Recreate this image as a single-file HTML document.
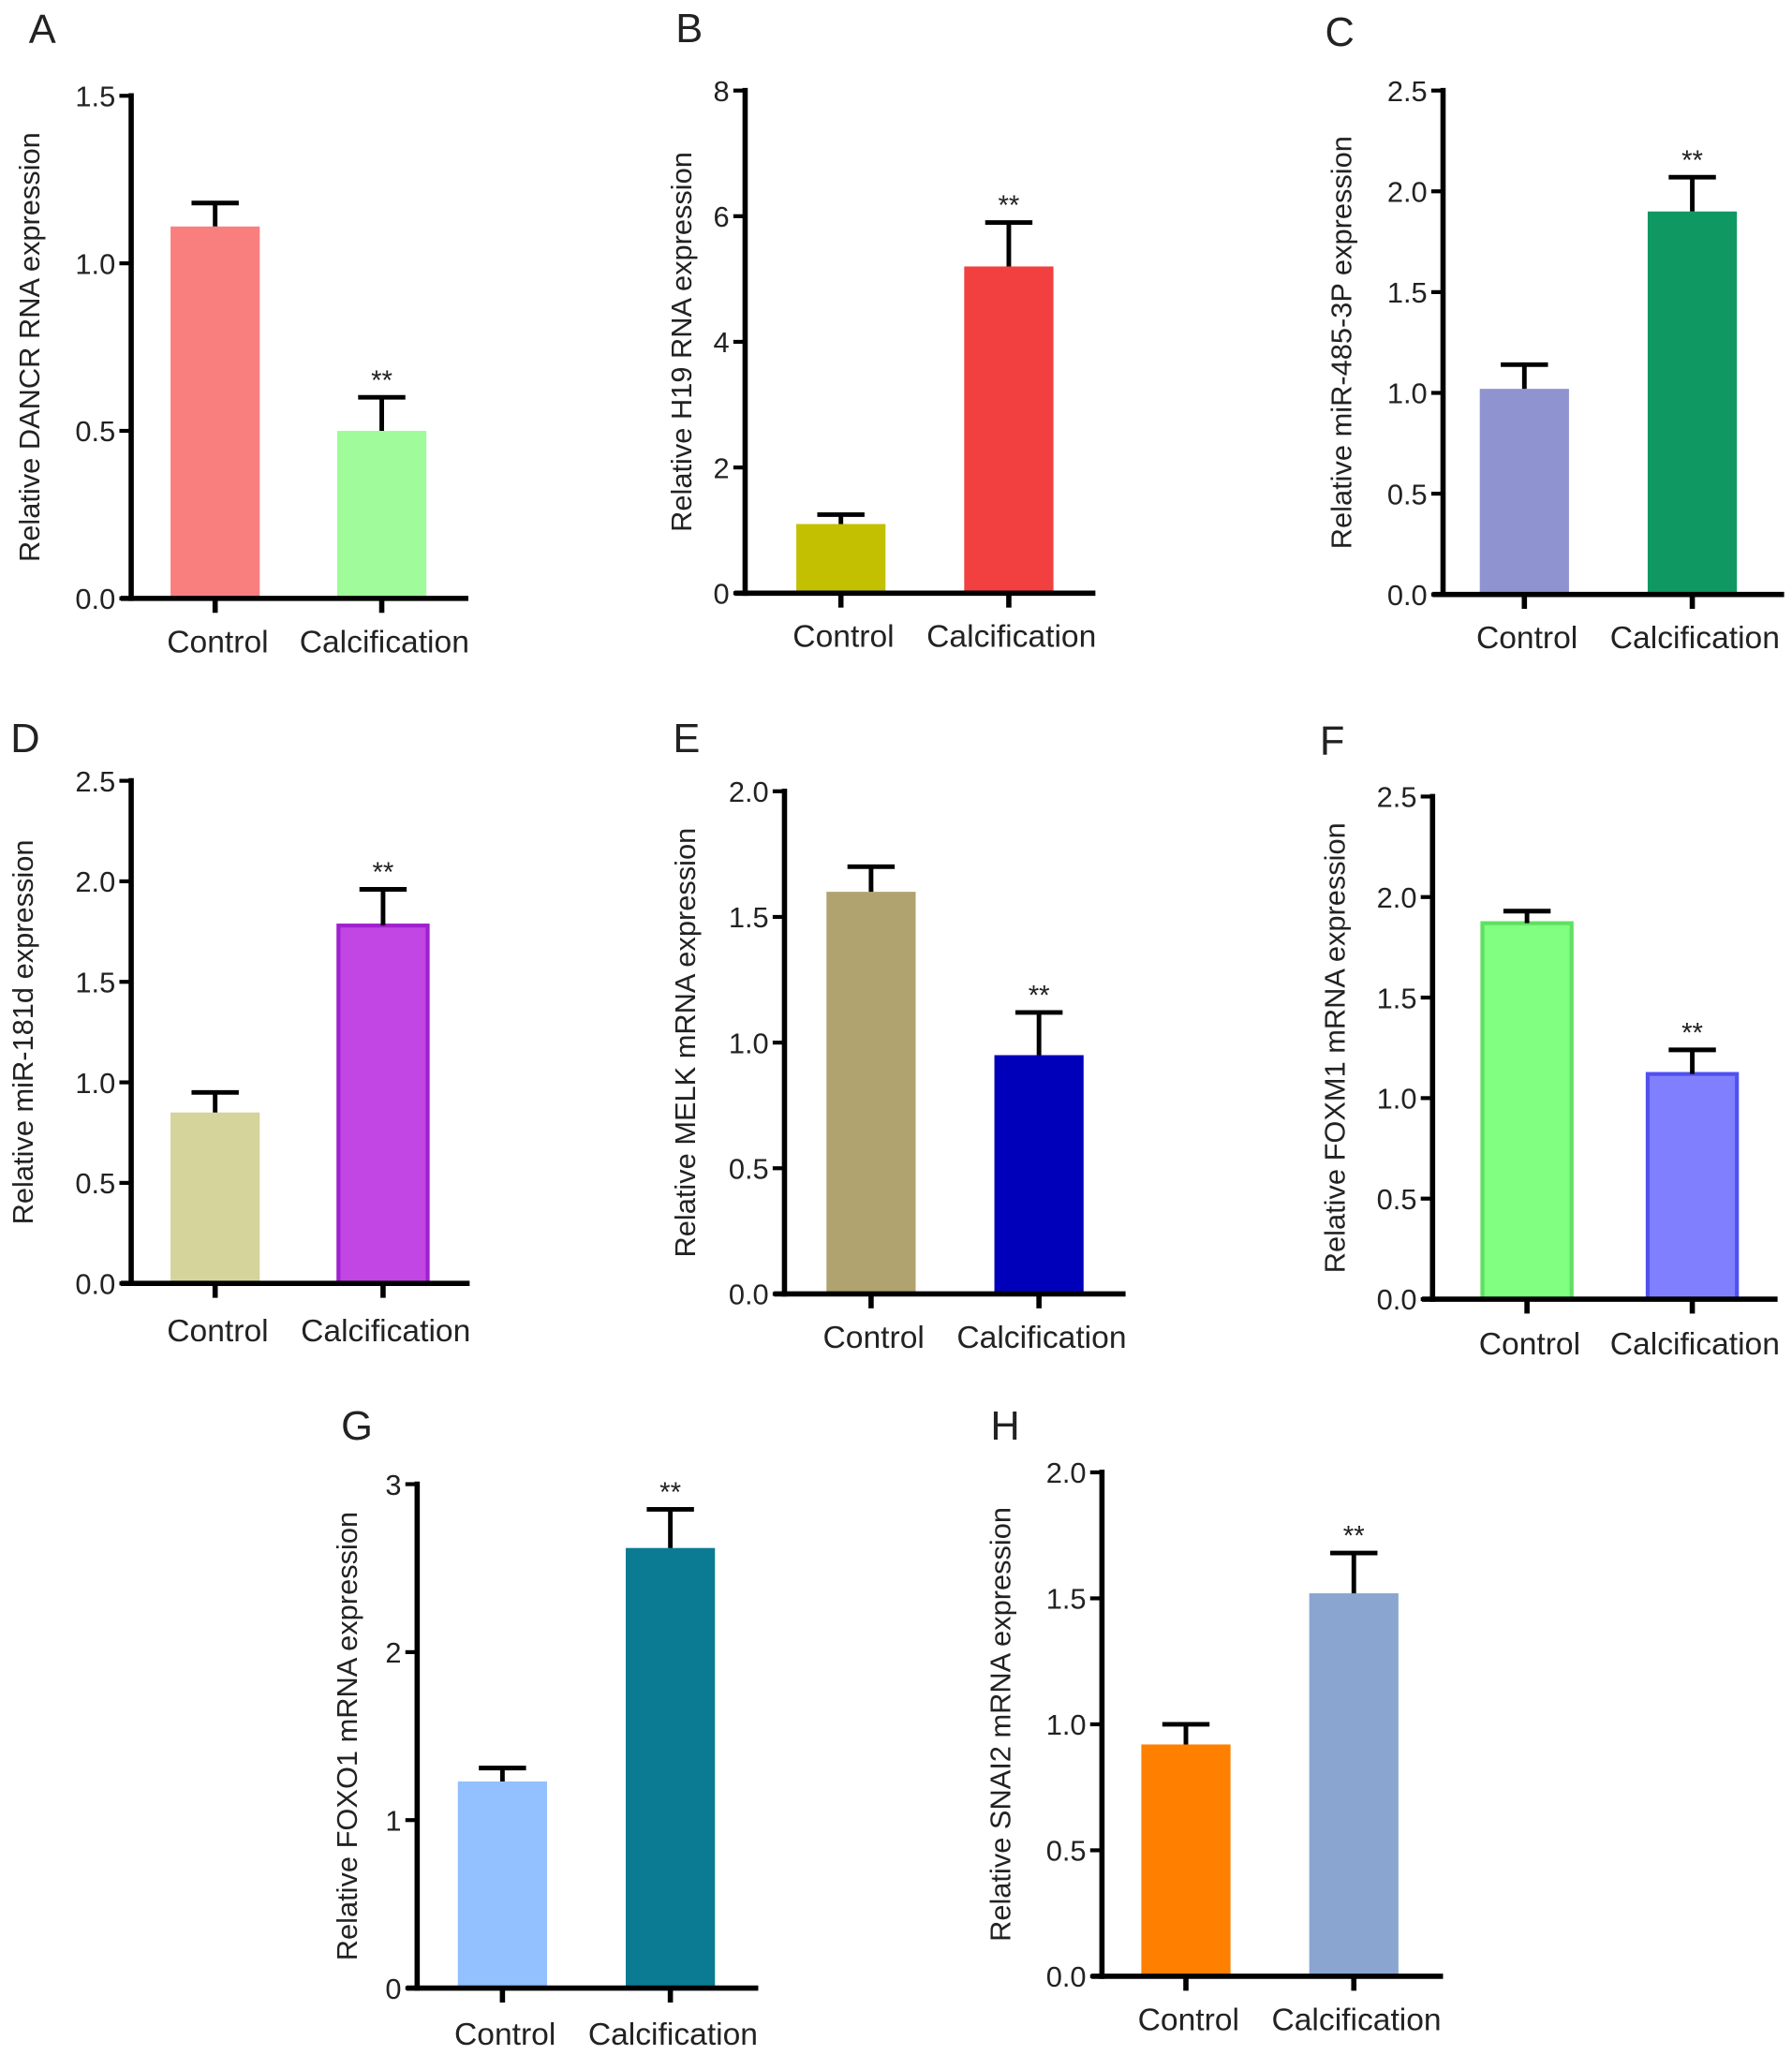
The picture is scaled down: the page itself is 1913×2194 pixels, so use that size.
<!DOCTYPE html>
<html><head><meta charset="utf-8"><style>
html,body{margin:0;padding:0;background:#fff}
svg{display:block}
text{font-family:"Liberation Sans",Arial,sans-serif;fill:#222}
</style></head><body>
<svg id="fig" width="1913" height="2194" viewBox="0 0 1366 1566" preserveAspectRatio="none" xmlns="http://www.w3.org/2000/svg"></svg>
<script>
const categories = ["Control","Calcification"];
const panelLetters = ["A","B","C","D","E","F","G","H"];
const yTitles = ["Relative DANCR RNA expression","Relative H19 RNA expression","Relative miR-485-3P expression","Relative miR-181d expression","Relative MELK mRNA expression","Relative FOXM1 mRNA expression","Relative FOXO1 mRNA expression","Relative SNAI2 mRNA expression"];
const meanValues = [[1.11,0.50],[1.1,5.2],[1.02,1.90],[0.85,1.78],[1.60,0.95],[1.87,1.12],[1.23,2.62],[0.92,1.52]];
const errorTops = [[1.18,0.60],[1.25,5.9],[1.14,2.07],[0.95,1.96],[1.70,1.12],[1.93,1.24],[1.31,2.85],[1.00,1.68]];
const yMax = [1.5,8,2.5,2.5,2.0,2.5,3,2.0];
const yTicks = [[0,0.5,1.0,1.5],[0,2,4,6,8],[0,0.5,1.0,1.5,2.0,2.5],[0,0.5,1.0,1.5,2.0,2.5],[0,0.5,1.0,1.5,2.0],[0,0.5,1.0,1.5,2.0,2.5],[0,1,2,3],[0,0.5,1.0,1.5,2.0]];
const tickDecimals = [1,0,1,1,1,1,0,1];
const fills = [["#f97f7f","#a0fc9a"],["#c2c000","#f23f3f"],["#8f93cf","#0f9862"],["#d5d49b","#c246e3"],["#b0a370","#0000bb"],["#80ff80","#8080ff"],["#93c0ff","#0a7b93"],["#ff7f00","#8aa6d0"]];
const strokes = [[null,null],[null,null],[null,null],[null,"#a020d0"],[null,null],["#60e060","#5050f0"],[null,null],[null,null]];
// layout (not data)
const layout = [
 {ax:100,top:73,zero:456,end:357,b1:130,b2:257,lx:22,ly:33,tx:30,cy:497},
 {ax:568,top:69,zero:452,end:835,b1:607,b2:735,lx:515,ly:32,tx:527,cy:493},
 {ax:1100,top:69,zero:453,end:1360,b1:1128,b2:1256,lx:1010,ly:35,tx:1030,cy:494},
 {ax:100,top:595,zero:978,end:358,b1:130,b2:258,lx:8,ly:573,tx:25,cy:1022},
 {ax:598,top:603,zero:986,end:858,b1:630,b2:758,lx:513,ly:573,tx:530,cy:1027},
 {ax:1092,top:607,zero:990,end:1355,b1:1130,b2:1256,lx:1006,ly:575,tx:1025,cy:1032},
 {ax:318,top:1131,zero:1515,end:578,b1:349,b2:477,lx:260,ly:1097,tx:272,cy:1558},
 {ax:840,top:1122,zero:1506,end:1100,b1:870,b2:998,lx:755,ly:1097,tx:770,cy:1547}
];
const NS="http://www.w3.org/2000/svg";
const svg=document.getElementById('fig');
function mk(tag,attrs,parent){const e=document.createElementNS(NS,tag);for(const k in attrs)e.setAttribute(k,attrs[k]);(parent||svg).appendChild(e);return e;}
const BW=68;
layout.forEach((L,p)=>{
  const g=mk('g',{});
  
  
  const y=v=>L.zero-(v/yMax[p])*(L.zero-L.top);
  const lt=mk('text',{x:L.lx,y:L.ly,'font-size':31},g);lt.textContent=panelLetters[p];
  
  
  const cyT=(L.top+L.zero)/2;
  const tt=mk('text',{x:L.tx,y:cyT,'font-size':22,'text-anchor':'middle',transform:`rotate(-90 ${L.tx} ${cyT})`},g);tt.textContent=yTitles[p];
  
  
  [L.b1,L.b2].forEach((bx,i)=>{
    const top=y(meanValues[p][i]);
    const r=mk('rect',{x:bx,y:top,width:BW,height:L.zero-top,fill:fills[p][i]},g);
    if(strokes[p][i]){r.setAttribute('stroke',strokes[p][i]);r.setAttribute('stroke-width',3);}
    
    
    const cx=bx+BW/2, et=y(errorTops[p][i]);
    const eb=mk('path',{d:`M${cx} ${top} V${et} M${cx-18} ${et} H${cx+18}`,stroke:'#000','stroke-width':3.5,fill:'none'},g);
    
    
    if(i===1){const s=mk('text',{x:cx,y:et-6,'font-size':21,'text-anchor':'middle'},g);s.textContent='**';
      
      }
    mk('line',{x1:cx,x2:cx,y1:L.zero,y2:L.zero+11,stroke:'#000','stroke-width':4},g);
    const cl=mk('text',{x:cx+2,y:L.cy,'font-size':24,'text-anchor':'middle'},g);cl.textContent=categories[i];
    
    
  });
  const ya=mk('line',{x1:L.ax,x2:L.ax,y1:L.top-2,y2:L.zero+2,stroke:'#000','stroke-width':4},g);
  
  
  const xa=mk('line',{x1:L.ax-8,x2:L.end,y1:L.zero,y2:L.zero,stroke:'#000','stroke-width':4},g);
  
  
  yTicks[p].forEach(t=>{
    const ty=y(t);
    mk('line',{x1:L.ax-9,x2:L.ax,y1:ty,y2:ty,stroke:'#000','stroke-width':3},g);
    const tl=mk('text',{x:L.ax-12,y:ty+8,'font-size':22,'text-anchor':'end'},g);tl.textContent=t.toFixed(tickDecimals[p]);
    
    
  });
});
</script>
</body></html>
